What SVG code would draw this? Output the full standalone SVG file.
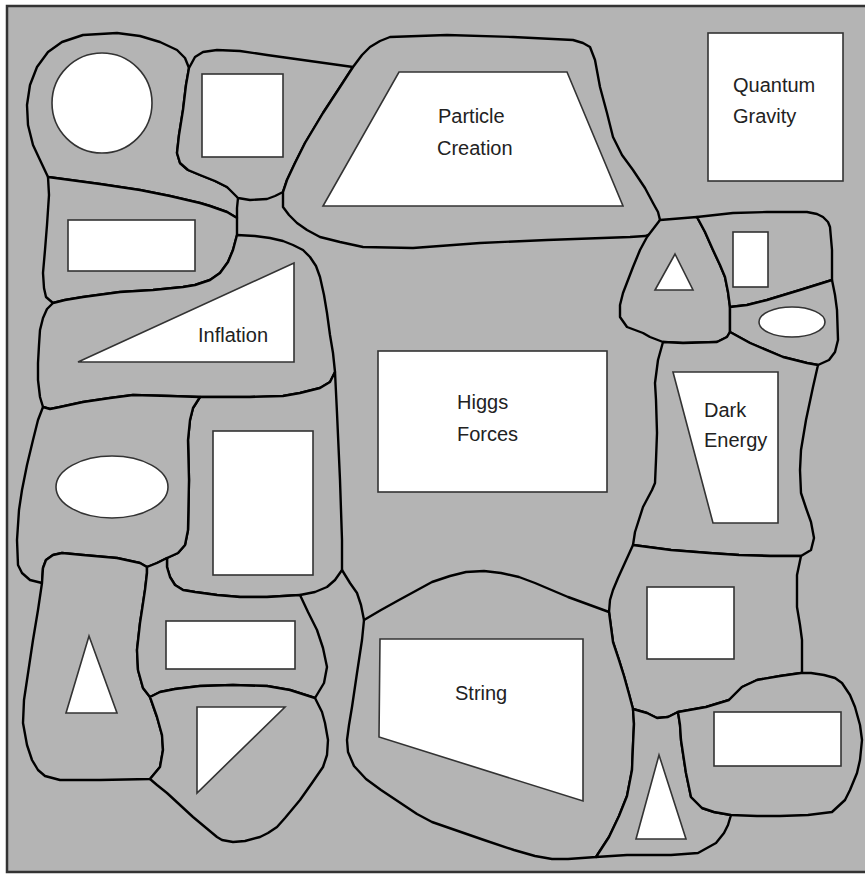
<svg xmlns="http://www.w3.org/2000/svg" width="865" height="874" viewBox="0 0 865 874">
<style>
.cell{fill:#b4b4b4;stroke:#000;stroke-width:2.4;stroke-linejoin:round;stroke-linecap:round}
.line{fill:none;stroke:#000;stroke-width:2.4;stroke-linejoin:round;stroke-linecap:round}
.shape{fill:#fff;stroke:#333;stroke-width:1.6}
text{font-family:"Liberation Sans",Arial,sans-serif;font-size:20px;fill:#222}
</style>
<rect x="0" y="0" width="865" height="874" fill="#fff"/>
<rect id="frame" x="7" y="6" width="900" height="866" fill="#b4b4b4" stroke="#333" stroke-width="2.5"/>

<g id="cell-circle">
<path class="cell" d="M48,177 L40,160 33,145 28,125 27,105 30,85 37,67 48,52 62,42 83,35 117,33 140,36 160,42 177,50 185,58 189,68 L186,85 183,110 179,135 177,153 180,163 188,170 200,175 215,181 227,187 235,193 238,198 L237,208 237,218 L227,212 210,206 200,203 170,196 140,190 100,184 Z"/>
<circle class="shape" cx="102" cy="103" r="50"/>
</g>
<g id="cell-square">
<path class="cell" d="M189,68 L195,57 203,52 217,50 240,51 267,55 310,61 353,67 L340,87 323,113 305,143 295,163 287,180 283,192 L275,196 267,199 250,200 238,198 L227,187 215,181 200,175 188,170 180,163 177,153 179,135 183,110 186,85 Z"/>
<rect class="shape" x="202" y="74" width="81" height="83"/>
</g>
<g id="cell-rect1">
<path class="cell" d="M48,177 L100,184 140,190 170,196 200,203 210,206 227,212 237,218 L237,235 L233,250 228,262 220,273 210,280 195,285 183,287 153,290 120,292 83,297 65,300 53,303 L46,297 44,288 43,273 45,250 47,225 49,195 Z"/>
<rect class="shape" x="68" y="220" width="127" height="51"/>
</g>
<g id="cell-inflation">
<path class="cell" d="M53,303 L65,300 83,297 120,292 153,290 183,287 195,285 210,280 220,273 228,262 233,250 237,235 L255,236 270,238 283,241 293,245 303,250 310,257 316,266 320,277 324,295 327,313 330,335 333,353 335,372 L330,382 320,388 300,393 283,396 250,397 233,397 200,397 L170,396 133,395 110,398 83,402 60,407 50,409 43,407 L40,397 38,380 38,363 39,345 40,330 43,318 47,309 Z"/>
<polygon class="shape" points="78,362 294,263 294,362"/>
<text x="198" y="342">Inflation</text>
</g>
<g id="cell-tallrect">
<path class="cell" d="M200,397 L233,397 250,397 283,396 300,393 320,388 330,382 335,372 L337,413 340,480 342,540 342,570 L335,580 327,587 315,592 300,595 L267,597 240,597 217,595 195,592 183,590 175,585 170,577 167,567 167,558 L178,553 185,545 188,530 189,480 188,440 190,420 193,408 Z"/>
<rect class="shape" x="213" y="431" width="100" height="144"/>
</g>
<g id="cell-ellipse">
<path class="cell" d="M43,407 L50,409 60,407 83,402 110,398 133,395 170,396 200,397 L193,408 190,420 188,440 189,480 188,530 185,545 178,553 167,558 L157,563 147,567 L140,563 117,558 83,555 62,553 53,555 46,560 43,568 42,583 L30,580 22,573 18,565 17,540 19,510 22,490 27,465 33,440 38,420 Z"/>
<ellipse class="shape" cx="112" cy="487" rx="56" ry="31"/>
</g>
<g id="cell-triangle-left">
<path class="cell" d="M42,583 L43,568 46,560 53,555 62,553 83,555 117,558 140,563 147,567 L147,573 145,590 142,610 140,623 137,650 138,670 143,688 150,697 L157,717 162,735 163,750 160,767 150,779 L100,780 60,780 45,776 38,770 32,760 27,745 23,723 24,700 27,680 30,660 33,640 38,610 Z"/>
<polygon class="shape" points="89,636 117,713 66,713"/>
</g>
<g id="cell-rect2">
<path class="cell" d="M147,567 L157,563 167,558 L167,567 170,577 175,585 183,590 195,592 217,595 240,597 267,597 300,595 L308,612 317,630 323,648 327,667 324,683 315,698 L290,690 267,686 233,685 200,686 175,689 160,692 150,697 L143,688 138,670 137,650 140,623 142,610 145,590 147,573 Z"/>
<rect class="shape" x="166" y="621" width="129" height="48"/>
</g>
<g id="cell-triangle-right">
<path class="cell" d="M150,697 L160,692 175,689 200,686 233,685 267,686 290,690 315,698 L322,712 325,723 328,740 327,755 323,767 312,783 300,800 285,818 277,827 268,833 260,837 245,841 233,842 222,840 217,837 205,827 193,817 180,805 167,793 157,785 150,779 L160,767 163,750 162,735 157,717 Z"/>
<polygon class="shape" points="197,707 285,707 197,793"/>
</g>
<g id="cell-particle">
<path class="cell" d="M353,67 L362,55 370,47 380,41 390,37 447,35 513,37 573,40 583,43 590,47 595,60 600,87 607,113 613,137 622,155 633,170 645,188 653,203 658,212 660,220 L657,228 653,233 645,236 630,237 547,240 480,243 413,248 363,247 340,242 320,237 307,230 297,223 289,215 283,207 283,192 L287,180 295,163 305,143 323,113 340,87 Z"/>
<polygon class="shape" points="399,72 567,72 623,206 323,206"/>
<text x="438" y="123">Particle</text>
<text x="437" y="155">Creation</text>
</g>
<g id="node-quantum">
<rect class="shape" x="708" y="33" width="135" height="148"/>
<text x="733" y="92">Quantum</text>
<text x="733" y="123">Gravity</text>
</g>
<g id="node-higgs">
<rect class="shape" x="378" y="351" width="229" height="141"/>
<text x="457" y="409">Higgs</text>
<text x="457" y="441">Forces</text>
</g>
<g id="cell-small-triangle">
<path class="cell" d="M660,220 L697,217 L705,232 713,250 720,265 725,277 728,292 730,307 730,332 L727,337 717,342 683,343 663,342 L650,337 643,333 627,327 620,317 620,305 623,293 628,280 633,267 640,250 647,237 Z"/>
<polygon class="shape" points="675,254 693,290 655,290"/>
</g>
<g id="cell-small-rect">
<path class="cell" d="M697,217 L733,213 767,212 807,212 817,214 823,217 828,222 830,227 832,250 832,280 L800,290 767,300 747,305 730,307 L728,292 725,277 720,265 713,250 705,232 Z"/>
<rect class="shape" x="733" y="232" width="35" height="55"/>
</g>
<g id="cell-small-ellipse">
<path class="cell" d="M730,307 L747,305 767,300 800,290 832,280 L835,295 837,310 838,340 835,352 829,360 818,365 L807,363 783,357 750,343 730,332 Z"/>
<ellipse class="shape" cx="792" cy="322" rx="33" ry="15"/>
</g>
<g id="cell-dark-energy">
<path class="cell" d="M663,342 L683,343 717,342 727,337 730,332 L750,343 783,357 807,363 818,365 L813,387 806,420 801,450 800,470 801,493 806,508 811,522 814,538 811,550 801,556 L770,556 739,555 709,553 671,550 633,545 L635,532 643,507 652,490 655,483 656,460 657,433 656,400 655,383 658,360 Z"/>
<polygon class="shape" points="673,372 778,372 778,523 713,523"/>
<text x="704" y="417">Dark</text>
<text x="704" y="447">Energy</text>
</g>
<g id="cell-square-right">
<path class="cell" d="M633,545 L671,550 709,553 739,555 770,556 801,556 L797,575 797,607 800,625 802,640 802,672 L801,673 780,676 757,680 742,687 736,693 729,700 706,707 678,712 L668,717 657,718 647,713 633,709 L629,694 624,676 619,660 613,642 611,627 609,612 L610,600 613,590 618,578 623,567 Z"/>
<rect class="shape" x="647" y="587" width="87" height="72"/>
</g>
<g id="cell-string">
<path class="cell" d="M364,620 L381,610 399,600 432,582 450,576 466,572 484,571 501,573 519,577 535,583 568,597 609,612 L611,627 613,642 619,660 624,676 629,694 633,709 L634,724 633,745 632,770 627,796 619,816 609,837 596,857 L568,859 552,859 535,856 514,850 484,840 432,822 417,814 399,802 381,790 366,779 354,766 348,752 347,740 349,725 352,707 357,673 362,640 Z"/>
<polygon class="shape" points="380,639 583,639 583,801 379,737"/>
<text x="455" y="700">String</text>
</g>
<g id="cell-triangle-bottom">
<path class="cell" d="M596,857 L609,837 619,816 627,796 632,770 633,745 634,724 633,709 L647,713 657,718 668,717 678,712 L680,725 681,740 684,760 686,773 691,797 702,808 714,812 731,815 L728,825 724,833 716,843 698,853 671,855 647,855 627,855 Z"/>
<polygon class="shape" points="659,755 686,839 636,839"/>
</g>
<g id="cell-rect-right">
<path class="cell" d="M678,712 L706,707 729,700 736,693 742,687 757,680 780,676 801,673 811,673 824,675 835,678 842,683 850,695 855,707 860,725 862,740 860,760 857,773 850,790 845,800 832,812 808,815 780,816 757,816 731,815 L714,812 702,808 691,797 686,773 684,760 681,740 680,725 Z"/>
<rect class="shape" x="714" y="712" width="127" height="54"/>
</g>
<g id="connectors">
<path class="line" d="M342,570 L350,583 357,593 361,605 364,620"/>
</g>
</svg>
